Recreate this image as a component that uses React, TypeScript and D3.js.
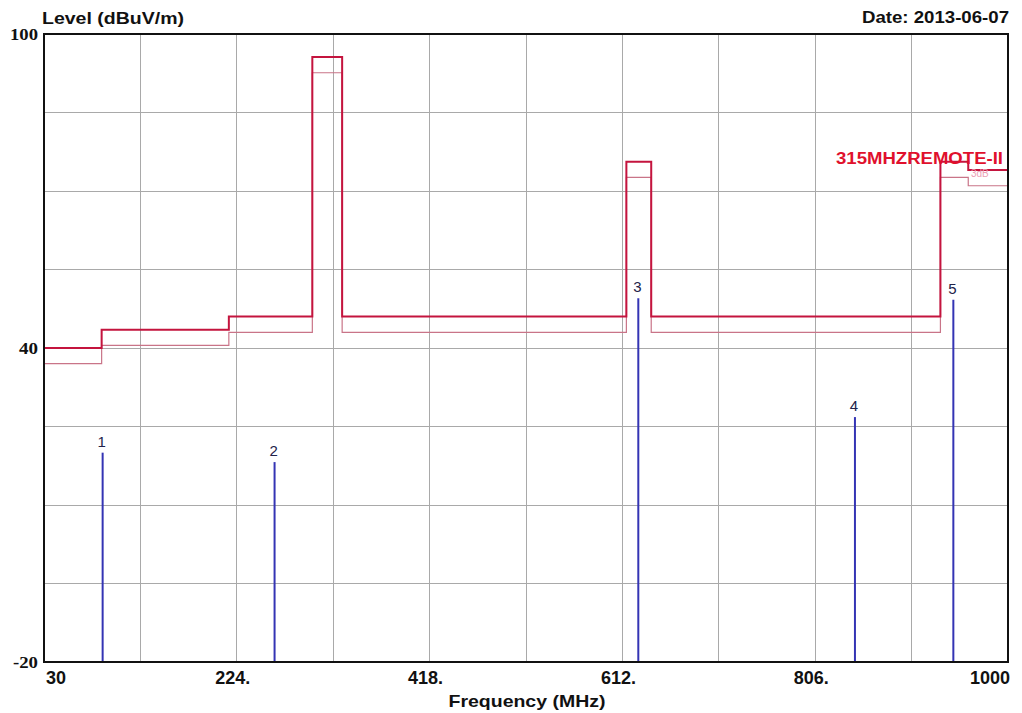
import * as d3 from 'd3';

// limit line steps (MHz -> dBuV/m)
const limitStart = [30, 88, 216, 300, 330, 616, 641, 932, 960];
const limitLevel = [40, 43.5, 46, 95.6, 46, 75.6, 46, 75.6, 74];
const freqMax = 1000;
const marginOffset = 3;

// measured peaks
const markerFreq = [89, 262, 628, 846, 945];
const markerLevel = [20, 18.2, 49.5, 26.8, 49.2];
const markerLabel = ['1', '2', '3', '4', '5'];

const xTickValues = [30, 224, 418, 612, 806, 1000];
const xTickLabels = ['30', '224.', '418.', '612.', '806.', '1000'];
const yTickValues = [100, 40, -20];
const yTickLabels = ['100', '40', '-20'];
const yTickWidths = [28, 19, 25];

const W = 1022;
const H = 713;
const plot = { left: 44, top: 34, right: 1008, bottom: 662 };

export default function App() {
  const x = d3.scaleLinear().domain([30, 1000]).range([plot.left, plot.right]);
  const y = d3.scaleLinear().domain([-20, 100]).range([plot.bottom, plot.top]);

  const xGrid = d3.range(30, 1001, 97);
  const yGrid = d3.range(-20, 101, 15);

  const steps: [number, number][] = limitStart.map((f, i) => [f, limitLevel[i]]);
  steps.push([freqMax, limitLevel[limitLevel.length - 1]]);

  const stepLine = d3
    .line<[number, number]>()
    .x((d) => x(d[0]))
    .y((d) => y(d[1]))
    .curve(d3.curveStepAfter);

  const marginSteps = steps.map((d) => [d[0], d[1] - marginOffset] as [number, number]);

  return (
    <svg
      width={W}
      height={H}
      style={{ position: 'absolute', left: 0, top: 0, background: '#fff' }}
    >
      <rect x={0} y={0} width={W} height={H} fill="#fff" />

      {/* grid */}
      <g stroke="#a9a9a9" strokeWidth={1} shapeRendering="crispEdges">
        {xGrid.slice(1, -1).map((f) => (
          <line key={'gx' + f} x1={x(f)} x2={x(f)} y1={plot.top} y2={plot.bottom} />
        ))}
        {yGrid.slice(1, -1).map((v) => (
          <line key={'gy' + v} x1={plot.left} x2={plot.right} y1={y(v)} y2={y(v)} />
        ))}
      </g>

      {/* margin line (limit - 3 dB) */}
      <path d={stepLine(marginSteps) || ''} fill="none" stroke="#c97488" strokeWidth={1.2} />
      {/* limit line */}
      <path d={stepLine(steps) || ''} fill="none" stroke="#c4143e" strokeWidth={2} />

      {/* markers */}
      {markerFreq.map((f, i) => (
        <g key={'m' + i}>
          <line
            x1={x(f)}
            x2={x(f)}
            y1={y(-20)}
            y2={y(markerLevel[i])}
            stroke="#3434b4"
            strokeWidth={2}
          />
          <text
            x={x(f) - 1}
            y={y(markerLevel[i]) - 6}
            textAnchor="middle"
            fontFamily="Liberation Sans, Arial, sans-serif"
            fontSize={15}
            fill="#22224a"
          >
            {markerLabel[i]}
          </text>
        </g>
      ))}

      <text
        x={1003}
        y={164}
        textAnchor="end"
        fontFamily="Liberation Sans, Arial, sans-serif"
        fontWeight="bold"
        fontSize={16}
        fill="#e0102c"
        textLength={167}
        lengthAdjust="spacingAndGlyphs"
      >
        315MHZREMOTE-II
      </text>
      <text
        x={971}
        y={177}
        fontFamily="Liberation Sans, Arial, sans-serif"
        fontSize={10}
        fill="#eba0b4"
      >
        3dB
      </text>

      {/* frame */}
      <rect
        x={plot.left}
        y={plot.top}
        width={plot.right - plot.left}
        height={plot.bottom - plot.top}
        fill="none"
        stroke="#111"
        strokeWidth={2}
      />

      {/* y tick labels */}
      {yTickValues.map((v, i) => (
        <text
          key={'yt' + v}
          x={38}
          y={y(v) + 6}
          textAnchor="end"
          fontFamily="Liberation Serif, Times New Roman, serif"
          fontWeight="bold"
          fontSize={16}
          fill="#111"
          textLength={yTickWidths[i]}
          lengthAdjust="spacingAndGlyphs"
        >
          {yTickLabels[i]}
        </text>
      ))}

      {/* x tick labels */}
      {xTickValues.map((f, i) => {
        const first = i === 0;
        const last = i === xTickValues.length - 1;
        return (
          <text
            key={'xt' + f}
            x={first ? x(f) + 2 : last ? x(f) + 2 : x(f) - 4}
            y={684}
            textAnchor={first ? 'start' : last ? 'end' : 'middle'}
            fontFamily="Liberation Sans Narrow, Liberation Sans, Arial, sans-serif"
            fontWeight="bold"
            fontSize={18}
            fill="#111"
          >
            {xTickLabels[i]}
          </text>
        );
      })}

      <text
        x={42}
        y={24}
        fontFamily="Liberation Sans, Arial, sans-serif"
        fontWeight="bold"
        fontSize={16}
        fill="#111"
        textLength={142}
        lengthAdjust="spacingAndGlyphs"
      >
        Level (dBuV/m)
      </text>
      <text
        x={1009}
        y={23}
        textAnchor="end"
        fontFamily="Liberation Sans, Arial, sans-serif"
        fontWeight="bold"
        fontSize={16}
        fill="#111"
        textLength={147}
        lengthAdjust="spacingAndGlyphs"
      >
        Date: 2013-06-07
      </text>
      <text
        x={527}
        y={707}
        textAnchor="middle"
        fontFamily="Liberation Sans, Arial, sans-serif"
        fontWeight="bold"
        fontSize={17}
        fill="#111"
        textLength={157}
        lengthAdjust="spacingAndGlyphs"
      >
        Frequency (MHz)
      </text>
    </svg>
  );
}
